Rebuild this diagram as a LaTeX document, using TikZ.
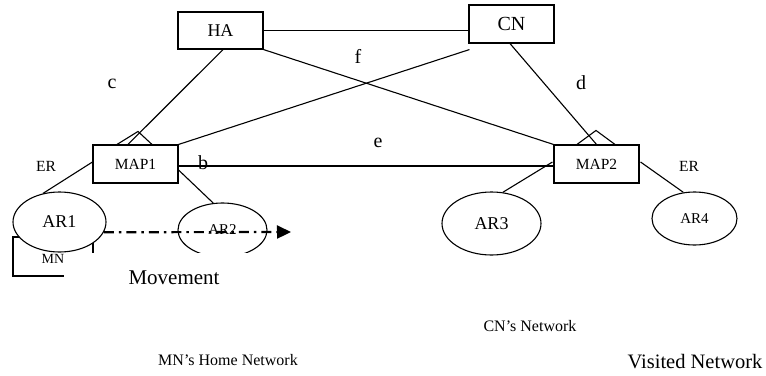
\documentclass[tikz,border=0pt]{standalone}
\usepackage{fontspec}
\setmainfont{Liberation Serif}
\usetikzlibrary{arrows.meta,calc,shapes.geometric}
\newcommand\fsz[1]{\fontsize{#1}{#1}\selectfont}
\begin{document}
\begin{tikzpicture}[x=1pt,y=-1pt,
  ln/.style={line width=1.1pt},
  boxnode/.style={draw,ln,rectangle,inner sep=0pt,minimum width=85pt,minimum height=38pt},
  arnode/.style={draw,ln,ellipse,inner sep=0pt,fill=white},
  lbl/.style={inner sep=0pt}]
\useasboundingbox (0,0) rectangle (766,375);
% boxes
\node[boxnode,minimum height=37pt] (HA) at (220.5,30.5) {\fsz{18}HA};
\node[boxnode] (CN) at (511.5,24) {\fsz{20}CN};
\node[boxnode] (MAP1) at (135.5,164) {\fsz{15.5}MAP1};
\node[boxnode] (MAP2) at (596.5,164) {\fsz{15.5}MAP2};
% connectors between HA, CN, MAPs
\draw[ln] (HA.east) -- (HA.east -| CN.west);
\draw[ln] (HA.south east) -- (MAP2.north west);
\draw[ln] ($(CN.south west)+(1,6)$) -- (MAP1.north east);
\draw[ln] ($(HA.south)+(2.5,0)$) -- ($(MAP1.north)+(-7.5,0)$);
\draw[ln] ($(CN.south)+(-1.5,0)$) -- (MAP2.north);
\draw[ln] (MAP1.east) ++(0,2) coordinate (m1e) -- (m1e -| MAP2.west);
% carets on MAP tops
\draw[ln] ($(MAP1.north)+(-18.5,0)$) -- ($(MAP1.north)+(2.5,-13)$) -- ($(MAP1.north)+(16.5,0)$);
\draw[ln] ($(MAP2.north)+(-19.5,0)$) -- ($(MAP2.north)+(-0.5,-14)$) -- ($(MAP2.north)+(18.5,0)$);
% labels
\node[lbl] (lc) at (112,84) {\fsz{20}c};
\node[lbl] (ld) at (581,83) {\fsz{20}d};
\node[lbl] (le) at (378,143) {\fsz{20}e};
\node[lbl] (lf) at (358,56) {\fsz{20}f};
\node[lbl] (lb) at (203,163) {\fsz{20}b};
\node[lbl] (er1) at (46,166) {\fsz{15.5}ER};
\node[lbl] (er2) at (689,166) {\fsz{15.5}ER};
% MN box (partly hidden)
\draw[ln] (64,276) -- (13,276) -- (13,237) -- (93,237) -- (93,276);
\node[lbl] (MN) at (53,259) {\fsz{14}MN};
% access routers
\node[arnode,minimum width=93pt,minimum height=60pt] (AR1) at (59.5,222) {\fsz{18}AR1};
\node[arnode,minimum width=89pt,minimum height=54pt] (AR2) at (222.5,230) {\raisebox{1pt}{\fsz{15}AR2}};
\node[arnode,minimum width=99pt,minimum height=63pt] (AR3) at (491.5,223.5) {\fsz{18}AR3};
\node[arnode,minimum width=85pt,minimum height=53pt] (AR4) at (694.5,218.5) {\fsz{15}AR4};
\draw[ln] ($(MAP1.west)+(0,-2)$) -- (AR1.120);
\draw[ln] ($(MAP1.east)+(0,6)$) -- (AR2.109);
\draw[ln] ($(MAP2.west)+(-1,-2)$) -- (AR3.70);
\draw[ln] ($(MAP2.east)+(1,-2)$) -- (AR4.113);
% movement arrow
\coordinate (mvend) at (291,232);
\draw[line width=2.2pt,dash pattern=on 10pt off 5pt on 2.5pt off 5pt,
  -{Triangle[length=14pt,width=13pt]}] (AR1.-13) -- (mvend);
% white box holding the Movement text
\fill[white] (64,253) rectangle (300,300);
\node[lbl] (mv) at (174,278) {\fsz{21}Movement};
% network captions
\node[lbl] (hn) at (228,360) {\fsz{16}MN’s Home Network};
\node[lbl] (cnn) at (530,326) {\fsz{16}CN’s Network};
\node[lbl] (vn) at (695,362) {\fsz{20.5}Visited Network};
\end{tikzpicture}
\end{document}
